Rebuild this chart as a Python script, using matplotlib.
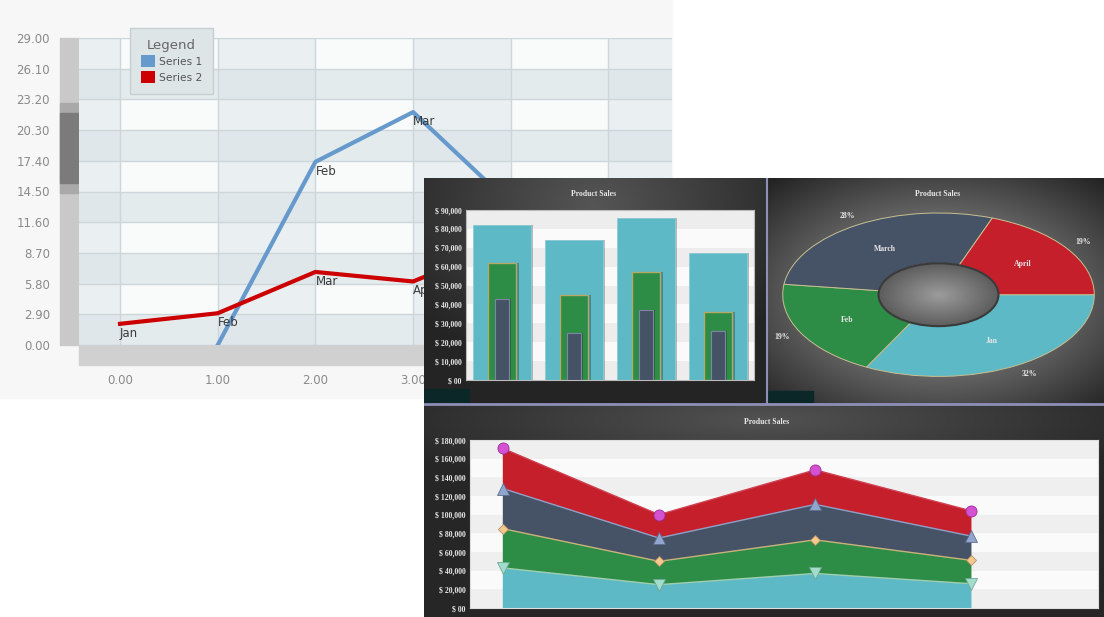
import numpy as np
import matplotlib
matplotlib.use('Agg')
from matplotlib import pyplot as plt
from matplotlib.patches import Rectangle, Patch, Circle
from matplotlib.colors import to_rgb
from matplotlib.ticker import FuncFormatter

W, H = 1104, 617

# --- left line chart
line_ticks_x = [0, 1, 2, 3, 4, 5]
s1_x = [1, 2, 3, 4]
s1_y = [0.0, 17.3, 22.0, 13.3]
s1_labels = ['Jan', 'Feb', 'Mar', 'Apr']
s2_x = [0, 1, 2, 3, 4]
s2_y = [2.0, 3.0, 6.9, 6.0, 9.8]
s2_labels = ['Jan', 'Feb', 'Mar', 'Apr', 'May']
y_ticks = [0, 2.9, 5.8, 8.7, 11.6, 14.5, 17.4, 20.3, 23.2, 26.1, 29.0]

# --- bar chart
bar_x = [0, 1, 2, 3]
bar_big = [82000, 74000, 86000, 67000]
bar_mid = [62000, 45000, 57000, 36000]
bar_small = [43000, 25000, 37000, 26000]

# --- donut
donut_labels = ['Jan', 'Feb', 'March', 'April']
donut_vals = [32, 19, 28, 19]

# --- stacked area
area_x = [0, 1, 2, 3]
area_1 = [43000, 25000, 37000, 26000]
area_2 = [42000, 25000, 36000, 25000]
area_3 = [43000, 25000, 38000, 26000]
area_4 = [43000, 25000, 37000, 27000]

CYAN, GREEN, NAVY, RED = '#5cb9c5', '#2d8c46', '#465266', '#c41f2a'
SERIF = dict(family='Liberation Serif', weight='bold', color='#e6e6e6', size=5.6)

fig = plt.figure(figsize=(W / 100, H / 100), dpi=100)
fig.patch.set_facecolor('white')


def px_axes(x0, y0, x1, y1, z):
    a = fig.add_axes([x0 / W, 1 - y1 / H, (x1 - x0) / W, (y1 - y0) / H])
    a.set_zorder(z)
    return a


# background canvas with scroll bars
bg = px_axes(0, 0, W, H, 0)
bg.set_xlim(0, W)
bg.set_ylim(H, 0)
bg.axis('off')
bg.add_patch(Rectangle((0, 0), 672, 398, color='#f7f7f7'))
bg.add_patch(Rectangle((60, 38), 19, 307, color='#c9c9c9'))
bg.add_patch(Rectangle((60, 103), 19, 90, color='#a9a9a9'))
bg.add_patch(Rectangle((60, 113), 19, 70, color='#7b7b7b'))
bg.add_patch(Rectangle((79, 345), 593, 20, color='#d0d0d0'))

# left chart
ax = px_axes(79, 38, 672, 345, 1)
ax.set_xlim(-0.42, 5.65)
ax.set_ylim(0, 29)
ax.set_facecolor('#f9fbfb')
for i in range(len(y_ticks) - 1):
    if i % 2 == 0:
        ax.axhspan(y_ticks[i], y_ticks[i + 1], color='#dce5e8', alpha=0.7, lw=0, zorder=0)
col_edges = [-0.42] + line_ticks_x + [5.65]
for i in range(len(col_edges) - 1):
    if i % 2 == 0:
        ax.axvspan(col_edges[i], col_edges[i + 1], color='#dce5e8', alpha=0.5, lw=0, zorder=0)
ax.set_yticks(y_ticks)
ax.set_yticklabels(['%.2f' % v for v in y_ticks])
ax.set_xticks(line_ticks_x)
ax.set_xticklabels(['%.2f' % v for v in line_ticks_x])
ax.tick_params(axis='y', length=0, pad=21, labelsize=8.5, labelcolor='#8a8a8a')
ax.tick_params(axis='x', length=0, pad=21, labelsize=8.5, labelcolor='#8a8a8a')
ax.grid(color='#cdd6d9', lw=1)
ax.set_axisbelow(True)
for sp in ax.spines.values():
    sp.set_visible(False)
ax.plot(s1_x, s1_y, color='#6699cc', lw=3, zorder=3)
ax.plot(s2_x, s2_y, color='#cc0000', lw=3, zorder=3)
for xs, ys, labs in [(s1_x, s1_y, s1_labels), (s2_x, s2_y, s2_labels)]:
    for x, y, t in zip(xs, ys, labs):
        a = ax.annotate(t, (x, y), xytext=(0, -2), textcoords='offset points',
                        ha='left', va='top', fontsize=8.5, color='#3a3a3a', zorder=4)
        a.set_clip_path(ax.patch)
handles = [Patch(facecolor='#6699cc', label='Series 1'),
           Patch(facecolor='#cc0000', label='Series 2')]
leg = ax.legend(handles=handles, title='Legend', loc='upper left',
                bbox_to_anchor=(130 / W, 1 - 28 / H), bbox_transform=fig.transFigure,
                borderaxespad=0, fontsize=7.7, title_fontsize=9.5, fancybox=False,
                facecolor='#dde5e7', edgecolor='#c5ced1', framealpha=1,
                handlelength=1.35, handleheight=1.35, handletextpad=0.4,
                labelspacing=0.35, borderpad=1.0)
leg.get_title().set_color('#666666')
for t in leg.get_texts():
    t.set_color('#555555')

# dark block canvas
dk = px_axes(424, 178, W, H, 5)


def glow(x0, y0, x1, y1, cx, cy, rx, ry, c_in, c_out, r0, r1):
    X, Y = np.meshgrid(np.arange(x0, x1) + 0.5, np.arange(y0, y1) + 0.5)
    r = np.sqrt(((X - cx) / rx) ** 2 + ((Y - cy) / ry) ** 2)
    t = np.clip((r - r0) / (r1 - r0), 0, 1)[..., None]
    img = np.array(to_rgb(c_in)) * (1 - t) + np.array(to_rgb(c_out)) * t
    dk.imshow(img, extent=(x0, x1, y1, y0), interpolation='bilinear', aspect='auto')


glow(424, 178, 767, 404, 594, 205, 230, 170, '#555555', '#242424', 0.0, 1.0)
glow(767, 178, W, 404, 938, 295, 215, 135, '#646464', '#232323', 0.6, 1.15)
glow(424, 404, W, H, 765, 420, 420, 70, '#525252', '#262626', 0.0, 1.0)
dk.set_xlim(424, W)
dk.set_ylim(H, 178)
dk.axis('off')
dk.add_patch(Rectangle((424, 389), 45, 13, color='#0b2727'))
dk.add_patch(Rectangle((768, 391), 45, 11, color='#0b2727'))
dk.plot([766.5, 766.5], [178, 403], color='#8e8fb8', lw=1.5)
dk.plot([424, W], [403.5, 403.5], color='#8e8fb8', lw=2)
dk.text(594, 194, 'Product Sales', ha='center', va='center', **SERIF)
dk.text(938, 194, 'Product Sales', ha='center', va='center', **SERIF)
dk.text(767, 422, 'Product Sales', ha='center', va='center', **SERIF)

money = FuncFormatter(lambda v, p: '$ {:,.0f}'.format(v) if v else '$ 00')

# bar chart
bx = px_axes(466, 210, 754, 380, 6)
bx.set_xlim(-0.5, 3.5)
bx.set_ylim(0, 90000)
bx.set_facecolor('#fafafa')
for k, y0 in enumerate(range(0, 90000, 10000)):
    if k % 2 == 0:
        bx.axhspan(y0, y0 + 10000, color='#ededed', lw=0, zorder=0)
xs = np.array(bar_x)
bx.bar(xs + 0.03, bar_big, 0.8, color='#000000', alpha=0.25, zorder=1)
bx.bar(xs, bar_big, 0.8, color=CYAN, edgecolor='#8fcad2', lw=0.6, zorder=2)
bx.bar(xs + 0.03, bar_mid, 0.4, color='#000000', alpha=0.25, zorder=2)
bx.bar(xs, bar_mid, 0.4, color=GREEN, edgecolor='#b7a866', lw=1, zorder=3)
bx.bar(xs + 0.02, bar_small, 0.2, color='#000000', alpha=0.25, zorder=3)
bx.bar(xs, bar_small, 0.2, color=NAVY, edgecolor='#8084a8', lw=0.8, zorder=4)
bx.set_yticks(range(0, 90001, 10000))
bx.yaxis.set_major_formatter(money)
bx.set_xticks([])
bx.tick_params(axis='y', length=0, pad=3)
for t in bx.get_yticklabels():
    t.set(**SERIF)
for sp in bx.spines.values():
    sp.set_color('#bbbbbb')
    sp.set_linewidth(0.8)

# donut
px = px_axes(782.7, 213, 1094.3, 376.4, 6)
wedges, names, pcts = px.pie(donut_vals, labels=donut_labels, colors=[CYAN, GREEN, NAVY, RED],
                             startangle=0, counterclock=False, radius=1,
                             labeldistance=0.66, autopct='%d%%', pctdistance=1.13,
                             wedgeprops=dict(width=0.615, edgecolor='#c8c090', lw=0.7))
for t in list(names) + list(pcts):
    t.set(ha='center', va='center', **SERIF)
px.set_aspect('auto')
hole = Circle((0, 0), 0.385, transform=px.transData)
Xh, Yh = np.meshgrid(np.linspace(-1, 1, 120), np.linspace(-1, 1, 120))
rh = np.clip(np.sqrt(Xh ** 2 + Yh ** 2), 0, 1)[..., None]
himg = np.array(to_rgb('#9c9c9c')) * (1 - rh) + np.array(to_rgb('#5c5c5c')) * rh
im = px.imshow(himg, extent=(-0.39, 0.39, -0.39, 0.39), interpolation='bilinear',
               aspect='auto', zorder=5)
im.set_clip_path(hole)
px.add_patch(Circle((0, 0), 0.385, fill=False, edgecolor='#3a3a3a', lw=1.5, zorder=6))
px.set_xlim(-1, 1)
px.set_ylim(-1, 1)
px.axis('off')

# stacked area
sx = px_axes(470, 440, 1098, 608, 6)
sx.set_xlim(-0.21, 3.81)
sx.set_ylim(0, 180000)
sx.set_facecolor('#fafafa')
for k, y0 in enumerate(range(0, 180000, 20000)):
    if k % 2 == 0:
        sx.axhspan(y0, y0 + 20000, color='#efefef', lw=0, zorder=0)
layers = [area_1, area_2, area_3, area_4]
sx.stackplot(area_x, *layers, colors=[CYAN, GREEN, NAVY, RED], zorder=2)
tops = np.cumsum(np.array(layers), axis=0)
line_cols = ['#9fcfae', '#c8b27a', '#8ea0c8', '#d04050']
marks = [('v', '#a3dccb', '#6fa898', 8), ('D', '#f3c990', '#b89060', 5.5),
         ('^', '#91a6cf', '#5e6e90', 8), ('o', '#d452d2', '#9a2d98', 8)]
for top, lc, (m, fc, ec, ms) in zip(tops, line_cols, marks):
    sx.plot(area_x, top, color=lc, lw=1, zorder=3)
    sx.plot(area_x, top, ls='none', marker=m, ms=ms, mfc=fc, mec=ec, mew=0.6, zorder=4)
sx.set_yticks(range(0, 180001, 20000))
sx.yaxis.set_major_formatter(money)
sx.set_xticks([])
sx.tick_params(axis='y', length=0, pad=3)
for t in sx.get_yticklabels():
    t.set(**SERIF)
for sp in sx.spines.values():
    sp.set_color('#dddddd')
    sp.set_linewidth(0.8)

fig.savefig('out.png', dpi=100)
